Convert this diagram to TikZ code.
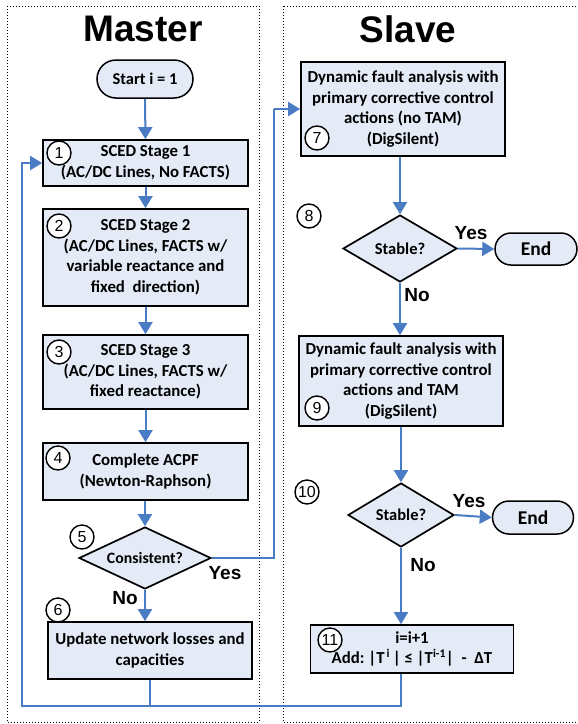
\documentclass[tikz,border=0pt]{standalone}
\usepackage{fontspec}
\setmainfont{Carlito}
\newfontfamily\arialf{Liberation Sans}
\usetikzlibrary{shapes.geometric,shapes.misc,arrows.meta,calc}
\definecolor{boxfill}{HTML}{E4EBF7}
\definecolor{arrblue}{HTML}{4A7CC4}
\begin{document}
\begin{tikzpicture}[x=1pt,y=-1pt,
  stepbox/.style={draw=black,fill=boxfill,line width=1.7pt,align=center,inner sep=0pt,
    font=\bfseries\fontsize{16.8}{20.5}\selectfont},
  term/.style={draw=black,fill=boxfill,line width=1.5pt,rounded rectangle,inner sep=0pt,
    font=\bfseries\fontsize{19.5}{22}\selectfont},
  decision/.style={draw=black,fill=boxfill,line width=1.7pt,diamond,aspect=2,inner sep=0pt,
    font=\bfseries\fontsize{16.5}{18}\selectfont},
  num/.style={draw=black,fill=white,circle,line width=1.4pt,minimum size=24pt,inner sep=0pt,
    font=\arialf\fontsize{16}{18}\selectfont},
  arr/.style={draw=arrblue,line width=2pt,-{Triangle[width=14pt,length=12pt]}},
  ln/.style={draw=arrblue,line width=2pt},
  lbl/.style={font=\arialf\bfseries\fontsize{19}{22}\selectfont,inner sep=0pt},
  title/.style={font=\arialf\bfseries\fontsize{37}{40}\selectfont,inner sep=0pt},
  panel/.style={draw=black,line width=1pt,dotted}]
\useasboundingbox (0,0) rectangle (578,724);
% panels
\draw[panel] (7,6) rectangle (259,722);
\draw[panel] (283,6) rectangle (600,722);
\node[title] (tm) at (143,29) {Master};
\node[title] (ts) at (408,29) {Slave};
% master nodes
\node[term,minimum width=96pt,minimum height=38pt,font=\bfseries\fontsize{16.5}{19}\selectfont] (start) at (145,79) {Start i = 1};
\node[stepbox,minimum width=205pt,minimum height=46pt] (b1) at (145.5,163) {SCED Stage 1\\(AC/DC Lines, No FACTS)};
\node[stepbox,minimum width=205pt,minimum height=97pt] (b2) at (145.5,257.5) {SCED Stage 2\\(AC/DC Lines, FACTS w/\\variable reactance and\\fixed\ \ direction)};
\node[stepbox,minimum width=205pt,minimum height=74pt] (b3) at (145.5,372) {SCED Stage 3\\(AC/DC Lines, FACTS w/\\fixed reactance)};
\node[stepbox,minimum width=205pt,minimum height=57pt] (b4) at (145.5,471.5) {Complete ACPF\\(Newton-Raphson)};
\node[decision,minimum width=132pt,minimum height=62pt,font=\bfseries\fontsize{15.8}{18}\selectfont] (d5) at (145,558) {Consistent?};
\node[stepbox,minimum width=204pt,minimum height=57pt] (b6) at (150,650.5) {Update network losses and\\capacities};
% slave nodes
\node[stepbox,minimum width=204pt,minimum height=94pt] (b7) at (403,109) {Dynamic fault analysis with\\primary corrective control\\actions (no TAM)\\(DigSilent)};
\node[decision,minimum width=114pt,minimum height=67pt] (d8) at (400,248.5) {Stable?};
\node[term,minimum width=82pt,minimum height=32pt] (e1) at (536,249) {End};
\node[stepbox,minimum width=204pt,minimum height=90pt] (b9) at (401,381) {Dynamic fault analysis with\\primary corrective control\\actions and TAM\\(DigSilent)};
\node[decision,minimum width=106pt,minimum height=64pt] (d10) at (401,515) {Stable?};
\node[term,minimum width=81pt,minimum height=33pt] (e2) at (533,517.5) {End};
\node[stepbox,minimum width=203pt,minimum height=48pt] (b11) at (412,649) {i=i+1\\Add:\ |T\textsuperscript{\,i}\,|\ ≤\ |T\textsuperscript{i-1}|\ \ -\ \ ΔT};
% number circles
\node[num] (n1) at (59,153) {1};
\node[num] (n2) at (59,226) {2};
\node[num] (n3) at (59,352) {3};
\node[num] (n4) at (58,458) {4};
\node[num] (n5) at (82,537) {5};
\node[num] (n6) at (58,610) {6};
\node[num] (n7) at (317,138) {7};
\node[num] (n8) at (309,216) {8};
\node[num] (n9) at (317,408) {9};
\node[num] (n10) at (307,492) {10};
\node[num] (n11) at (330,640) {11};
% junction coordinates
\coordinate (j1) at (274,109);
\coordinate (jb) at (22,706);
% master connectors
\draw[arr] (start) -- (b1);
\draw[arr] (b1) -- (b2);
\draw[arr] (b2) -- (b3);
\draw[arr] (b3) -- (b4);
\draw[arr] (b4.south -| d5.north) -- (d5.north);
\draw[arr] (d5.south) -- (d5.south |- b6.north);
\draw[ln] (d5.east) -| (j1);
\draw[arr] (j1) -- (b7.west);
% slave connectors
\draw[arr] (b7.south -| d8.north) -- (d8.north);
\draw[arr] (d8.east) -- (e1.west);
\draw[arr] (d8.south) -- (d8.south |- b9.north);
\draw[arr] (b9.south -| d10.north) -- (d10.north);
\draw[arr] (d10.east) -- (e2.west);
\draw[arr] (d10.south) -- (d10.south |- b11.north);
% feedback
\draw[ln] (b6.south) -- (b6.south |- jb);
\draw[arr] (b11.south -| d10.south) -- (d10.south |- jb) -- (jb) |- (b1.west);
% labels
\node[lbl] (y5) at (225,573) {Yes};
\node[lbl] (no5) at (125,598) {No};
\node[lbl] (y8) at (471,233) {Yes};
\node[lbl] (no8) at (417,295) {No};
\node[lbl] (y10) at (469,501) {Yes};
\node[lbl] (no10) at (423,565) {No};
\end{tikzpicture}
\end{document}
